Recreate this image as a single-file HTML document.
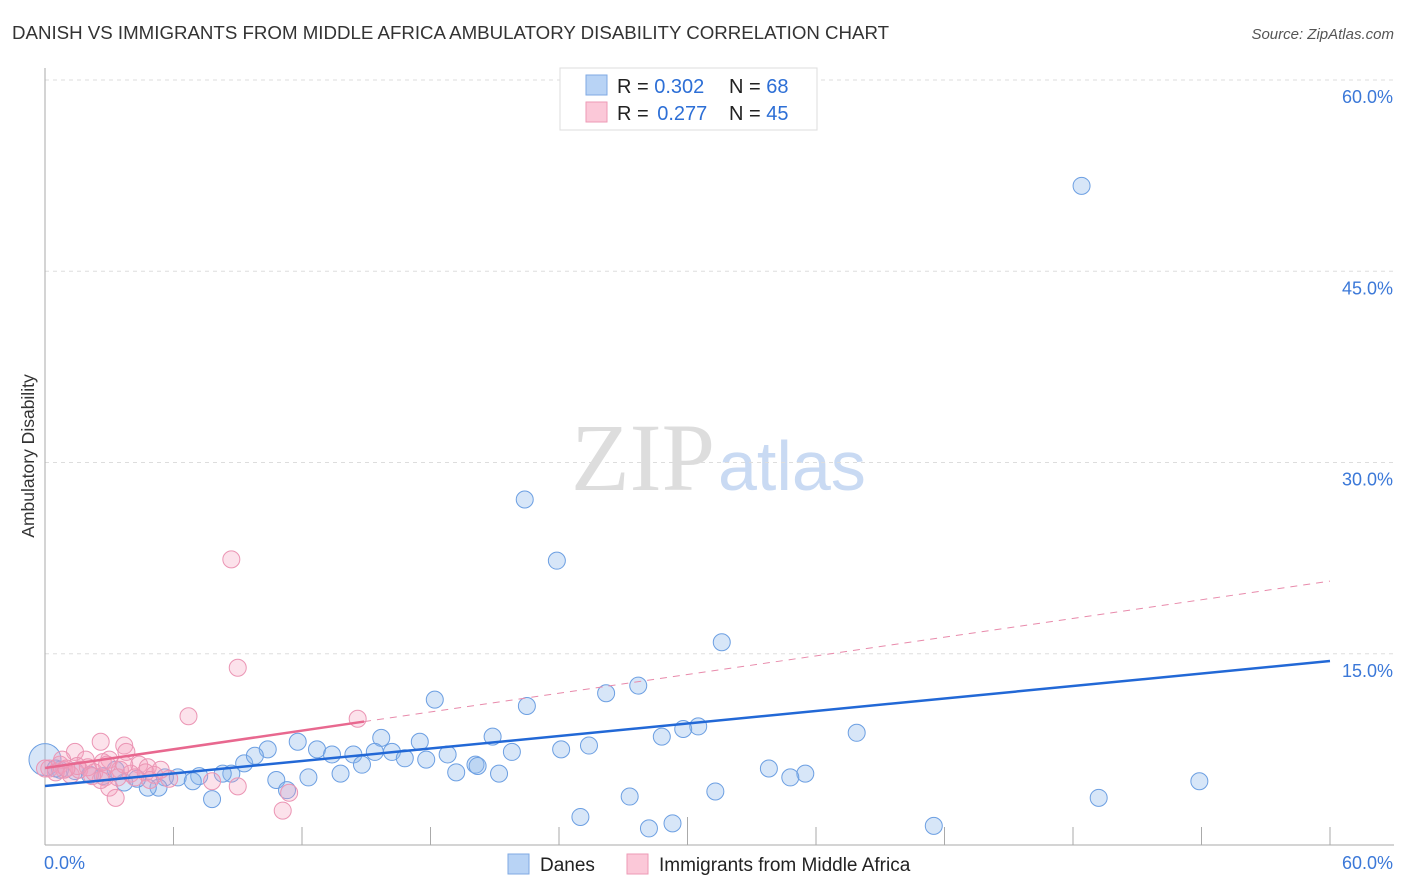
<!DOCTYPE html>
<html><head><meta charset="utf-8"><style>
body{margin:0;background:#fff;font-family:"Liberation Sans",sans-serif;}
svg{display:block}
</style></head><body>
<svg id="chart" width="1406" height="892" xmlns="http://www.w3.org/2000/svg">
<text x="12" y="39" font-size="18.7" fill="#333">DANISH VS IMMIGRANTS FROM MIDDLE AFRICA AMBULATORY DISABILITY CORRELATION CHART</text>
<text x="1394" y="39" font-size="15" fill="#555" font-style="italic" text-anchor="end">Source: ZipAtlas.com</text>
<text x="715" y="490" font-size="96" fill="#ddd" text-anchor="end" font-family="Liberation Serif,serif">ZIP</text>
<text x="718" y="490" font-size="70" fill="#c9daf3">atlas</text>
<g id="grid"></g>
<g id="axes"></g>
<text transform="translate(34,456) rotate(-90)" font-size="17.5" fill="#333" text-anchor="middle">Ambulatory Disability</text>
<g id="marks"></g>
<g>
<rect x="560" y="68" width="257" height="62" fill="#fff" stroke="#ddd"/>
<rect x="586" y="75" width="21" height="20" fill="#b8d3f5" stroke="#7fa9e3"/>
<rect x="586" y="102" width="21" height="20" fill="#fbc8d8" stroke="#ee9ab6"/>
<text x="617" y="93" font-size="20" fill="#222">R = <tspan fill="#2d6fd6">0.302</tspan></text>
<text x="729" y="93" font-size="20" fill="#222">N = <tspan fill="#2d6fd6">68</tspan></text>
<text x="617" y="120" font-size="20" fill="#222">R = <tspan fill="#2d6fd6" dx="3">0.277</tspan></text>
<text x="729" y="120" font-size="20" fill="#222">N = <tspan fill="#2d6fd6">45</tspan></text>
</g>
<g>
<rect x="508" y="854" width="21" height="20" fill="#b8d3f5" stroke="#7fa9e3"/>
<text x="540" y="871" font-size="19" fill="#222">Danes</text>
<rect x="627" y="854" width="21" height="20" fill="#fbc8d8" stroke="#ee9ab6"/>
<text x="659" y="871" font-size="19" fill="#222">Immigrants from Middle Africa</text>
</g>
</svg>
<script>
const blueX=[48.4,22.4,23.9,31.6,27.7,26.2,18.2,22.5,37.9,30.5,29.8,28.8,20.9,25.4,24.1,21.8,15.7,17.5,11.8,10.4,12.7,14.4,15.4,16.2,16.8,13.4,18.8,17.8,20.1,20.2,19.2,21.2,14.8,13.8,12.3,9.3,9.8,8.7,8.3,7.2,10.8,11.3,7.8,6.2,6.9,5.6,5.3,4.8,3.7,4.3,2.7,33.8,35.5,34.8,27.3,31.3,25.0,28.2,29.3,41.5,49.2,53.9,0.0,0.7,1.4,2.1,3.3,0.5];
const blueY=[51.7,27.1,22.3,15.9,12.5,11.9,11.4,10.9,8.8,9.3,9.1,8.5,8.5,7.8,7.5,7.3,8.4,8.1,8.1,7.5,7.5,7.1,7.3,7.3,6.8,7.1,7.1,6.7,6.3,6.2,5.7,5.6,6.3,5.6,5.3,6.4,7.0,5.6,5.6,5.4,5.1,4.3,3.6,5.3,5.0,5.3,4.5,4.5,4.9,5.2,5.4,6.0,5.6,5.3,3.8,4.2,2.2,1.3,1.7,1.5,3.7,5.0,6.7,5.9,5.8,5.5,5.9,6.0];
const pinkX=[8.7,9.0,6.7,14.6,2.6,3.7,3.8,1.4,1.9,3.0,4.4,4.8,3.5,2.3,0.7,0.2,0.9,1.2,1.6,2.8,3.0,3.3,4.0,4.7,5.1,5.8,7.8,9.0,11.4,11.1,2.6,2.0,0.5,0.0,4.2,2.2,0.8,1.5,3.4,4.9,5.4,3.7,2.7,1.0,2.9];
const pinkY=[22.4,13.9,10.1,9.9,8.1,7.8,7.3,7.3,6.7,6.7,6.3,6.1,5.9,5.7,6.3,6.0,5.9,5.5,5.9,5.3,4.5,3.7,5.6,5.7,5.5,5.2,5.0,4.6,4.1,2.7,5.1,6.1,5.7,6.0,5.3,5.4,6.7,6.2,5.3,5.1,5.9,6.3,6.5,6.0,6.3];
const yTicks=[15,30,45,60];
const yTickLabels=["15.0%","30.0%","45.0%","60.0%"];
const blueTrend=[4.63,14.43];
const pinkTrend=[6.04,20.7];
const pinkSolidEnd=14.9;
const NS="http://www.w3.org/2000/svg";
const X0=45,X1=1330,Y0=845,YTOP=80;
function sx(v){return X0+v*(X1-X0)/60;}
function sy(v){return Y0-v*(Y0-YTOP)/60;}
function mk(tag,attrs,parent){const e=document.createElementNS(NS,tag);for(const k in attrs)e.setAttribute(k,attrs[k]);parent.appendChild(e);return e;}
const grid=document.getElementById('grid'),axes=document.getElementById('axes'),marks=document.getElementById('marks');
yTicks.forEach((t,i)=>{
 const l=mk('line',{x1:X0,x2:1394,y1:sy(t),y2:sy(t),stroke:'#ddd','stroke-dasharray':'4,4'},grid);
 
 
 const tx=mk('text',{x:1393,y:sy(t)+23,'font-size':18,fill:'#3b78d8','text-anchor':'end'},axes);
 tx.textContent=yTickLabels[i];
 
 
});
const xa=mk('line',{x1:X0,x2:X1+64,y1:Y0,y2:Y0,stroke:'#aaa'},axes);


const ya=mk('line',{x1:X0,x2:X0,y1:68,y2:Y0,stroke:'#aaa'},axes);


for(let i=1;i<=10;i++){
 const v=i*6;
 const tk=mk('line',{x1:sx(v),x2:sx(v),y1:(i==5?817:827),y2:Y0,stroke:'#aaa'},axes);
 
 
}
const xl0=mk('text',{x:44,y:869,'font-size':18,fill:'#3b78d8'},axes);xl0.textContent='0.0%';


const xl1=mk('text',{x:1393,y:869,'font-size':18,fill:'#3b78d8','text-anchor':'end'},axes);xl1.textContent='60.0%';


blueX.forEach((x,i)=>{
 const big=(x===0);
 const c=mk('circle',{cx:sx(x),cy:sy(blueY[i]),r:big?16:8.5,fill:'rgba(140,182,235,0.35)',stroke:'#6c9fe2','stroke-width':1},marks);
 
 
});
pinkX.forEach((x,i)=>{
 const c=mk('circle',{cx:sx(x),cy:sy(pinkY[i]),r:8.5,fill:'rgba(245,160,190,0.3)',stroke:'#eb95b4','stroke-width':1},marks);
 
 
});
const pinkAt=v=>pinkTrend[0]+(pinkTrend[1]-pinkTrend[0])*v/60;
const pd=mk('line',{x1:sx(pinkSolidEnd),y1:sy(pinkAt(pinkSolidEnd)),x2:sx(60),y2:sy(pinkTrend[1]),stroke:'#e88aab','stroke-width':1,'stroke-dasharray':'7,6'},marks);


const ps=mk('line',{x1:sx(0),y1:sy(pinkTrend[0]),x2:sx(pinkSolidEnd),y2:sy(pinkAt(pinkSolidEnd)),stroke:'#e8688f','stroke-width':2.5},marks);


const bl=mk('line',{x1:sx(0),y1:sy(blueTrend[0]),x2:sx(60),y2:sy(blueTrend[1]),stroke:'#2268d6','stroke-width':2.5},marks);


</script>
</body></html>
